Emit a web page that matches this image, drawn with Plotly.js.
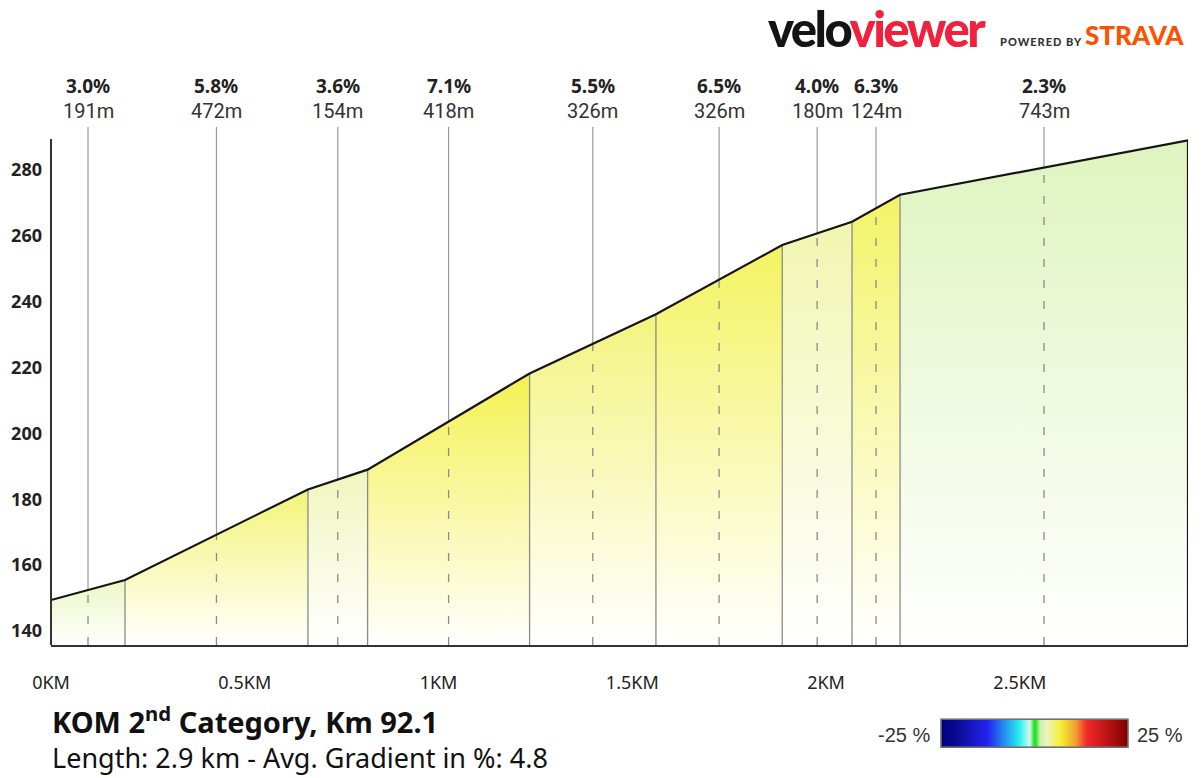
<!DOCTYPE html>
<html>
<head>
<meta charset="utf-8">
<script src="https://cdn.plot.ly/plotly-3.0.1.min.js"></script>
<style>
  html, body { margin: 0; padding: 0; background: #fff; }
  #chart { width: 1201px; height: 778px; }
</style>
</head>
<body>
<div id="chart"></div>
<script>
// ---------- data ----------
const segmentLengthsM = [191, 472, 154, 418, 326, 326, 180, 124, 743];
const segmentGradients = [3.0, 5.8, 3.6, 7.1, 5.5, 6.5, 4.0, 6.3, 2.3];
const pointElevations = [149.4, 155.5, 183.0, 189.0, 218.2, 236.2, 257.2, 264.3, 272.5, 289.0];
const xTickVals = [0, 0.5, 1, 1.5, 2, 2.5];
const xTickText = ['0KM', '0.5KM', '1KM', '1.5KM', '2KM', '2.5KM'];
const yTickVals = [140, 160, 180, 200, 220, 240, 260, 280];
const climbTitle = 'KOM 2<sup>nd</sup> Category, Km 92.1';
const climbSubtitle = 'Length: 2.9 km - Avg. Gradient in %: 4.8';
const gradientMin = -25, gradientMax = 25;

// ---------- layout constants ----------
const Y_MIN = 135.75, Y_MAX = 293.06, AXIS_TOP = 289.4;
const W = 1201, H = 778, ML = 51, MR = 13, MT = 127, MB = 133;
const PW = W - ML - MR, PH = H - MT - MB;
const px2paperX = p => (p - ML) / PW;
const px2paperY = p => (H - MB - p) / PH;

// cumulative distances (km) from the segment lengths
const pointDistKm = [0];
segmentLengthsM.forEach(l => pointDistKm.push(+(pointDistKm[pointDistKm.length - 1] + l / 1000).toFixed(3)));
const xEnd = pointDistKm[pointDistKm.length - 1];

// gradient colour map (like the legend bar)
const cmapStops = [
  [0.00, [0, 0, 128]], [0.08, [10, 10, 145]], [0.25, [35, 35, 240]], [0.42, [40, 240, 240]],
  [0.475, [215, 245, 240]], [0.495, [60, 230, 60]], [0.505, [30, 225, 30]], [0.53, [200, 240, 170]], [0.565, [238, 245, 190]],
  [0.64, [242, 240, 50]], [0.72, [242, 160, 50]], [0.78, [240, 40, 40]], [0.90, [180, 18, 18]], [1.00, [128, 0, 0]]
];
const plotlyScale = cmapStops.map(s => [s[0], `rgb(${s[1].join(',')})`]);
function cmap(g, mixWhite) {
  const t = Math.max(0, Math.min(1, (g - gradientMin) / (gradientMax - gradientMin)));
  let c = cmapStops[cmapStops.length - 1][1];
  for (let i = 0; i < cmapStops.length - 1; i++) {
    const [a, ca] = cmapStops[i], [b, cb] = cmapStops[i + 1];
    if (t >= a && t <= b) {
      const f = (t - a) / (b - a);
      c = ca.map((v, k) => v + (cb[k] - v) * f);
      break;
    }
  }
  c = c.map(v => Math.round(v + (255 - v) * mixWhite));
  return `rgb(${c.join(',')})`;
}

const traces = [];

// filled segments
for (let i = 0; i < segmentGradients.length; i++) {
  const x0 = pointDistKm[i], x1 = pointDistKm[i + 1];
  const e0 = pointElevations[i], e1 = pointElevations[i + 1];
  traces.push({
    type: 'scatter', mode: 'lines',
    x: [x0, x0, x1, x1, x0], y: [Y_MIN, e0, e1, Y_MIN, Y_MIN],
    fill: 'toself',
    line: { width: 0, color: 'rgba(0,0,0,0)' },
    fillgradient: {
      type: 'vertical',
      colorscale: [[0, 'rgb(255,255,255)'], [1, cmap(segmentGradients[i], 0.15)]],
      start: Y_MIN, stop: Math.max(e0, e1)
    },
    hoverinfo: 'skip', showlegend: false
  });
}

// segment boundary lines
const bx = [], by = [];
for (let i = 1; i < pointDistKm.length - 1; i++) {
  bx.push(pointDistKm[i], pointDistKm[i], null);
  by.push(Y_MIN, pointElevations[i], null);
}
traces.push({ type: 'scatter', mode: 'lines', x: bx, y: by, line: { color: '#8a8a8a', width: 1.3 }, hoverinfo: 'skip', showlegend: false });

// label lines (solid above the profile, dashed below)
const mx = [], my = [], dx = [], dy = [];
for (let i = 0; i < segmentGradients.length; i++) {
  const m = (pointDistKm[i] + pointDistKm[i + 1]) / 2;
  const em = (pointElevations[i] + pointElevations[i + 1]) / 2;
  mx.push(m, m, null); my.push(em, Y_MAX, null);
  dx.push(m, m, null); dy.push(Y_MIN, em, null);
}
traces.push({ type: 'scatter', mode: 'lines', x: mx, y: my, line: { color: '#9a9a9a', width: 1.2 }, hoverinfo: 'skip', showlegend: false });
traces.push({ type: 'scatter', mode: 'lines', x: dx, y: dy, line: { color: '#8a8a8a', width: 1.3, dash: '8px,13px' }, hoverinfo: 'skip', showlegend: false });

// profile line (closing down the right edge)
traces.push({
  type: 'scatter', mode: 'lines',
  x: pointDistKm.concat([xEnd]), y: pointElevations.concat([Y_MIN]),
  line: { color: '#151515', width: 2.2 }, hoverinfo: 'skip', showlegend: false
});

// legend colour bar (dummy trace)
traces.push({
  type: 'scatter', mode: 'markers', x: [-5, -5], y: [0, 0],
  marker: {
    color: [gradientMin, gradientMax], cmin: gradientMin, cmax: gradientMax, colorscale: plotlyScale,
    opacity: 0, showscale: true,
    colorbar: {
      orientation: 'h',
      x: px2paperX(941), xanchor: 'left', y: px2paperY(734), yanchor: 'middle',
      lenmode: 'pixels', len: 187, thickness: 28, xpad: 0, ypad: 0,
      outlinecolor: '#707070', outlinewidth: 1.6, showticklabels: false, ticks: ''
    }
  },
  hoverinfo: 'skip', showlegend: false
});

// annotations
const annotations = [];
for (let i = 0; i < segmentGradients.length; i++) {
  const m = (pointDistKm[i] + pointDistKm[i + 1]) / 2;
  annotations.push({
    x: m, xref: 'x', y: px2paperY(86), yref: 'paper', xanchor: 'center', yanchor: 'middle',
    text: '<b>' + segmentGradients[i].toFixed(1) + '%</b>', showarrow: false,
    font: { family: 'Noto Sans, sans-serif', size: 19, color: '#222' }
  });
  annotations.push({
    x: m, xref: 'x', y: px2paperY(111), yref: 'paper', xanchor: 'center', yanchor: 'middle',
    text: segmentLengthsM[i] + 'm', showarrow: false,
    font: { family: 'Roboto, sans-serif', size: 20, color: '#333' }
  });
}
// title + subtitle as one two-line text block
annotations.push({
  x: px2paperX(50), y: px2paperY(737), xref: 'paper', yref: 'paper', xanchor: 'left', yanchor: 'middle',
  align: 'left',
  text: '<b><span style="font-size:29px">' + climbTitle + '</span></b><br>' + climbSubtitle,
  showarrow: false,
  font: { family: 'Noto Sans, sans-serif', size: 27, color: '#111' }
});
annotations.push({
  x: px2paperX(932), y: px2paperY(735), xref: 'paper', yref: 'paper', xanchor: 'right', yanchor: 'middle',
  text: gradientMin + ' %', showarrow: false,
  font: { family: 'Liberation Sans, Arial, sans-serif', size: 20, color: '#333' }
});
annotations.push({
  x: px2paperX(1135), y: px2paperY(735), xref: 'paper', yref: 'paper', xanchor: 'left', yanchor: 'middle',
  text: gradientMax + ' %', showarrow: false,
  font: { family: 'Liberation Sans, Arial, sans-serif', size: 20, color: '#333' }
});
// logo
annotations.push({
  x: px2paperX(766), y: px2paperY(28), xref: 'paper', yref: 'paper', xanchor: 'left', yanchor: 'middle',
  text: '<span style="letter-spacing:-2.5px"><span style="fill:#141414">velo</span><span style="fill:#f2203c">viewer</span></span>',
  showarrow: false, font: { family: 'Lato, sans-serif', size: 49, weight: 900, color: '#141414' }
});
annotations.push({
  x: px2paperX(998), y: px2paperY(41), xref: 'paper', yref: 'paper', xanchor: 'left', yanchor: 'middle',
  text: '<span style="letter-spacing:1px">POWERED BY</span>', showarrow: false,
  font: { family: 'Lato, sans-serif', size: 11, weight: 900, color: '#333' }
});
annotations.push({
  x: px2paperX(1083), y: px2paperY(35), xref: 'paper', yref: 'paper', xanchor: 'left', yanchor: 'middle',
  text: 'STRAVA', showarrow: false,
  font: { family: 'Lato, sans-serif', size: 26, weight: 900, color: '#fc5200' }
});

const layout = {
  width: W, height: H,
  margin: { l: ML, r: MR, t: MT, b: MB, pad: 0, autoexpand: false },
  paper_bgcolor: '#fff', plot_bgcolor: '#fff',
  showlegend: false,
  xaxis: {
    range: [0, xEnd], showgrid: false, zeroline: false,
    showline: true, linecolor: '#333', linewidth: 2,
    tickvals: xTickVals, ticktext: xTickText, ticks: '',
    ticklabelstandoff: 20,
    tickfont: { family: 'Noto Sans, sans-serif', size: 18, color: '#222' }
  },
  yaxis: {
    range: [Y_MIN, Y_MAX], showgrid: false, zeroline: false, showline: false,
    tickvals: yTickVals, ticks: '', ticklabelstandoff: 8,
    tickfont: { family: 'Noto Sans, sans-serif', size: 18, color: '#222', weight: 'bold' }
  },
  shapes: [
    { type: 'line', xref: 'paper', yref: 'y', x0: 0, x1: 0, y0: Y_MIN, y1: AXIS_TOP, line: { color: '#333', width: 2 } }
  ],
  annotations: annotations
};

Plotly.newPlot('chart', traces, layout, { staticPlot: true, displayModeBar: false });
</script>
</body>
</html>
